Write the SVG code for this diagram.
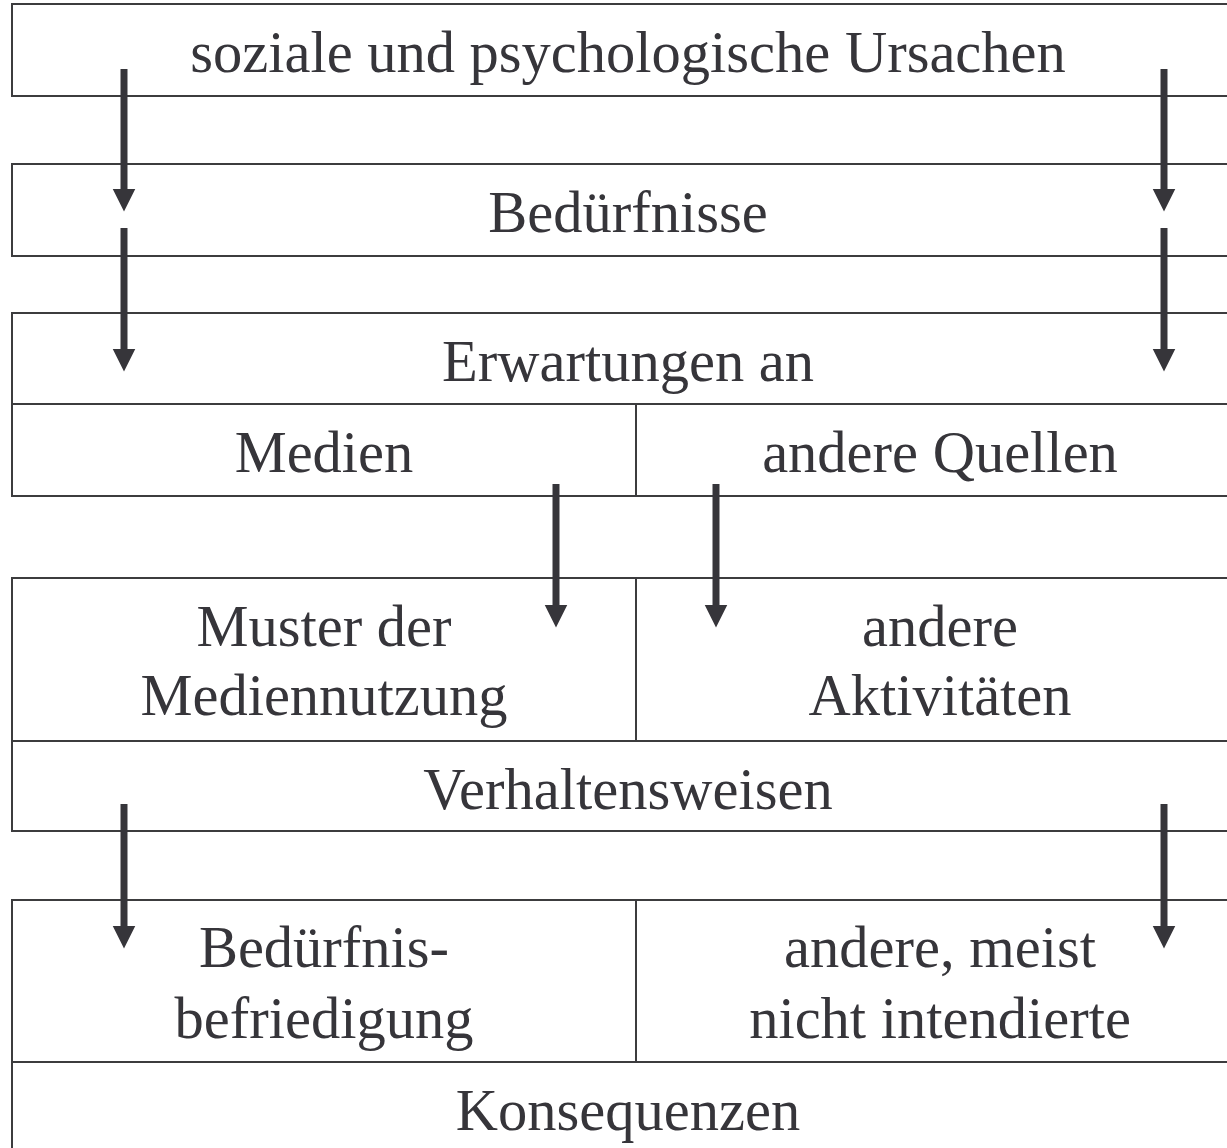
<svg xmlns="http://www.w3.org/2000/svg" width="1227" height="1148" viewBox="0 0 1227 1148">
<style>
.box{fill:#ffffff;stroke:#3c3c3e;stroke-width:2}
.div{stroke:#3c3c3e;stroke-width:2}
.t{font-family:"Liberation Serif","Times New Roman",serif;font-size:58.5px;fill:#36353a;text-anchor:middle}
.arr{stroke:#36353a;stroke-width:7;fill:none;marker-end:url(#ah)}
</style>
<defs>
<marker id="ah" markerUnits="userSpaceOnUse" markerWidth="24" markerHeight="24" viewBox="0 0 24 24" refX="0.5" refY="11.5" orient="auto">
<path d="M0,0 L23,11.5 L0,23 Z" fill="#36353a"/>
</marker>
</defs>
<g id="n1">
<rect class="box" x="12" y="4" width="1232" height="92"/>
<text class="t" x="628" y="72">soziale und psychologische Ursachen</text>
</g>
<g id="n2">
<rect class="box" x="12" y="164" width="1232" height="92"/>
<text class="t" x="628" y="232">Bedürfnisse</text>
</g>
<g id="n3">
<rect class="box" x="12" y="313" width="1232" height="183"/>
<line class="div" x1="12" y1="404" x2="1244" y2="404"/>
<line class="div" x1="636" y1="404" x2="636" y2="496"/>
<text class="t" x="628" y="381">Erwartungen an</text>
<text class="t" x="324" y="472">Medien</text>
<text class="t" x="940" y="472">andere Quellen</text>
</g>
<g id="n4">
<rect class="box" x="12" y="578" width="1232" height="253"/>
<line class="div" x1="12" y1="741" x2="1244" y2="741"/>
<line class="div" x1="636" y1="578" x2="636" y2="741"/>
<text class="t" x="324" y="646">Muster der</text>
<text class="t" x="324" y="715">Mediennutzung</text>
<text class="t" x="940" y="646">andere</text>
<text class="t" x="940" y="715">Aktivitäten</text>
<text class="t" x="628" y="809">Verhaltensweisen</text>
</g>
<g id="n5">
<rect class="box" x="12" y="900" width="1232" height="260"/>
<line class="div" x1="12" y1="1062" x2="1244" y2="1062"/>
<line class="div" x1="636" y1="900" x2="636" y2="1062"/>
<text class="t" x="324" y="967">Bedürfnis-</text>
<text class="t" x="324" y="1038">befriedigung</text>
<text class="t" x="940" y="967">andere, meist</text>
<text class="t" x="940" y="1038">nicht intendierte</text>
<text class="t" x="628" y="1130">Konsequenzen</text>
</g>
<g id="connectors">
<path class="arr" d="M124,69 V189"/>
<path class="arr" d="M1164,69 V189"/>
<path class="arr" d="M124,228 V349"/>
<path class="arr" d="M1164,228 V349"/>
<path class="arr" d="M556,484 V605"/>
<path class="arr" d="M716,484 V605"/>
<path class="arr" d="M124,804 V926"/>
<path class="arr" d="M1164,804 V926"/>
</g>
</svg>
